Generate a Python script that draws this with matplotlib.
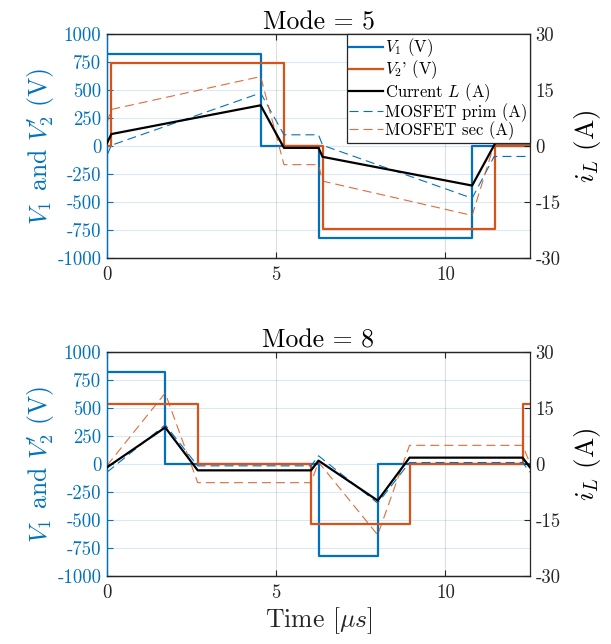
import matplotlib
matplotlib.use("Agg")
import matplotlib.pyplot as plt

plt.rcParams["font.family"] = "serif"
plt.rcParams["font.serif"] = ["cmr10", "DejaVu Serif"]
plt.rcParams["mathtext.fontset"] = "cm"
plt.rcParams["axes.formatter.use_mathtext"] = True
plt.rcParams["axes.unicode_minus"] = False
plt.rcParams["lines.scale_dashes"] = False

BLUE = "#0072BD"
ORANGE = "#D95319"
DARK = "#262626"

# ---- Mode 5 waveforms (breakpoints) ----
t_v1_5 = [0, 4.55, 4.55, 6.25, 6.25, 10.8, 10.8, 12.5]
v1_5 = [818, 818, 0, 0, -818, -818, 0, 0]
t_v2_5 = [0, 0.13, 0.13, 5.23, 5.23, 6.37, 6.37, 11.48, 11.48, 12.5]
v2_5 = [0, 0, 740, 740, 0, 0, -740, -740, 0, 0]
t_i_5 = [0, 0.13, 4.54, 5.23, 6.25, 6.37, 10.79, 11.47, 12.5]
iL_5 = [0.8, 3.2, 10.9, -0.5, -0.5, -2.9, -10.6, 0.7, 0.7]
t_prim_5 = [0, 0.13, 4.54, 5.23, 6.25, 6.37, 10.79, 11.44, 12.5]
prim_5 = [-2.5, 0.2, 14.2, 3.0, 3.0, 0.2, -14.0, -2.8, -2.8]
t_sec_5 = [0, 0.13, 4.54, 5.23, 6.25, 6.37, 10.79, 11.45, 12.5]
sec_5 = [6.2, 9.8, 18.6, -5.0, -5.0, -9.4, -18.6, 0.7, 0.7]

# ---- Mode 8 waveforms (breakpoints) ----
t_v1_8 = [0, 1.72, 1.72, 6.25, 6.25, 8.0, 8.0, 12.5]
v1_8 = [818, 818, 0, 0, -818, -818, 0, 0]
t_v2_8 = [0, 2.68, 2.68, 6.03, 6.03, 8.94, 8.94, 12.28, 12.28, 12.5]
v2_8 = [535, 535, 0, 0, -535, -535, 0, 0, 535, 535]
t_i_8 = [0, 1.72, 2.68, 6.03, 6.25, 8.0, 8.94, 12.28, 12.5]
iL_8 = [-0.9, 9.8, -1.7, -1.7, 0.9, -9.8, 1.7, 1.7, -0.9]
prim_8 = [-2.2, 10.5, -0.5, -0.5, 2.2, -10.5, 0.4, 0.4, -2.2]
sec_8 = [-0.4, 19.0, -5.0, -5.0, 0.5, -19.0, 5.0, 5.0, 0.2]

modes = ["Mode = 5", "Mode = 8"]
v_ticks = [-1000, -750, -500, -250, 0, 250, 500, 750, 1000]
v_tick_labels = ["-1000", "-750", "-500", "-250", "0", "250", "500", "750", "1000"]
i_ticks = [-30, -15, 0, 15, 30]
i_tick_labels = ["-30", "-15", "0", "15", "30"]
t_ticks = [0, 5, 10]
t_tick_labels = ["0", "5", "10"]

legend_labels = [r"$V_1$ (V)", r"$V_2$' (V)", r"Current $L$ (A)",
                 "MOSFET prim (A)", "MOSFET sec (A)"]

W, H = 611, 644
fig = plt.figure(figsize=(W / 100, H / 100), dpi=100)

left = 107 / W
width = 423 / W
height = 224 / H
bottoms = [1 - 258 / H, 1 - 576 / H]

panels = [
    (t_v1_5, v1_5, t_v2_5, v2_5, t_i_5, iL_5, t_prim_5, prim_5, t_sec_5, sec_5),
    (t_v1_8, v1_8, t_v2_8, v2_8, t_i_8, iL_8, t_i_8, prim_8, t_i_8, sec_8),
]

DASH = (6.5, 3.6)
FS = 13.5
LFS = 18.5

for k, (tv1, v1, tv2, v2, ti, il, tp, pr, ts, se) in enumerate(panels):
    ax = fig.add_axes([left, bottoms[k], width, height])
    ax2 = ax.twinx()

    h1, = ax.plot(tv1, v1, color=BLUE, lw=1.6, zorder=3)
    h2, = ax.plot(tv2, v2, color=ORANGE, lw=1.6, zorder=3)

    h4, = ax2.plot(tp, pr, color=BLUE, lw=0.8, dashes=DASH, zorder=2)
    h5, = ax2.plot(ts, se, color=ORANGE, lw=0.8, dashes=DASH, alpha=0.85, zorder=2)
    h3, = ax2.plot(ti, il, color="black", lw=1.6, zorder=4)

    ax.set_xlim(0, 12.5)
    ax.set_ylim(-1000, 1000)
    ax2.set_ylim(-30, 30)

    ax.set_xticks(t_ticks)
    ax.set_xticklabels(t_tick_labels, fontsize=FS, color=DARK)
    ax.set_yticks(v_ticks)
    ax.set_yticklabels(v_tick_labels, fontsize=FS, color=BLUE)
    ax2.set_yticks(i_ticks)
    ax2.set_yticklabels(i_tick_labels, fontsize=FS, color=DARK)

    # grids: horizontal from the left (blue) axis, vertical in grey
    ax.grid(True, axis="y", color=BLUE, alpha=0.15, lw=0.8)
    ax.grid(True, axis="x", color=DARK, alpha=0.15, lw=0.8)
    ax.set_axisbelow(True)

    ax.tick_params(axis="x", direction="in", length=4, top=True, color=DARK, pad=6)
    ax.tick_params(axis="y", direction="in", length=4, color=BLUE, pad=4)
    ax2.tick_params(axis="y", direction="in", length=4, color=DARK, pad=4)

    for s in ("top", "bottom"):
        ax.spines[s].set_color(DARK)
        ax2.spines[s].set_color(DARK)
    ax.spines["left"].set_color(BLUE)
    ax2.spines["left"].set_color(BLUE)
    ax2.spines["right"].set_color(DARK)
    ax.spines["right"].set_visible(False)
    for a in (ax, ax2):
        for sp in a.spines.values():
            sp.set_linewidth(0.9)

    ax.set_title(modes[k], fontsize=LFS, color="black", pad=3)
    ax.set_ylabel(r"$V_1$ and $V_2^{\prime}$ (V)", fontsize=LFS, color=BLUE, labelpad=0)
    ax2.set_ylabel(r"$i_L$ (A)", fontsize=LFS + 1, color="black", labelpad=8)

    if k == 0:
        leg = ax2.legend([h1, h2, h3, h4, h5], legend_labels, loc="upper right",
                         fontsize=12.0, frameon=True, fancybox=False, framealpha=1,
                         edgecolor=DARK, borderpad=0.15, labelspacing=-0.03,
                         handlelength=2.0, handletextpad=0.15, borderaxespad=0.0)
        leg.get_frame().set_linewidth(0.9)
    else:
        ax.set_xlabel(r"Time [$\mu s$]", fontsize=LFS, color=DARK, labelpad=2)

fig.savefig("out.png", dpi=100)
